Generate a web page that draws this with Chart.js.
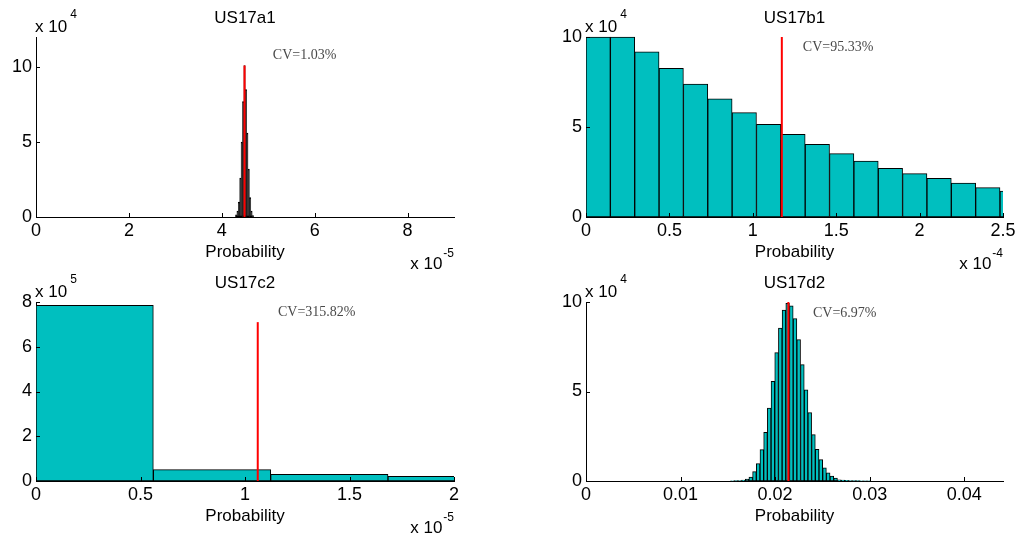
<!DOCTYPE html>
<html>
<head>
<meta charset="utf-8">
<script src="https://cdn.jsdelivr.net/npm/chart.js@4"></script>
<style>
  html, body { margin: 0; padding: 0; background: #fff; }
  #page { position: relative; width: 1019px; height: 538px; overflow: hidden; }
  canvas { position: absolute; }
</style>
</head>
<body>
<div id="page">
  <canvas id="cA" width="510" height="275" style="left:0;top:0"></canvas>
  <canvas id="cB" width="509" height="275" style="left:510px;top:0"></canvas>
  <canvas id="cC" width="510" height="268" style="left:0;top:270px"></canvas>
  <canvas id="cD" width="509" height="268" style="left:510px;top:270px"></canvas>
</div>
<script>
// US17a1  (x in 1e-5, counts in 1e4)
const ticksXA = [0, 2, 4, 6, 8];
const ticksYA = [0, 5, 10];
const edgeA = 4.295, widthA = 0.03;
const countsA = [0.15, 0.4, 1.0, 2.6, 5.0, 7.7, 10.1, 8.5, 5.6, 3.2, 1.3, 0.4, 0.1];
const meanA = 4.49, meanTopA = 10.1;

// US17b1  (x in 1e-4, counts in 1e4)
const ticksXB = [0, 0.5, 1, 1.5, 2, 2.5];
const ticksYB = [0, 5, 10];
const edgeB = 0, widthB = 0.146;
const countsB = [10.0, 10.0, 9.17, 8.26, 7.39, 6.57, 5.80, 5.15, 4.59, 4.04, 3.52, 3.11, 2.70, 2.41, 2.15, 1.89, 1.63, 1.44];
const meanB = 1.174, meanTopB = 10;

// US17c2  (x in 1e-5, counts in 1e5)
const ticksXC = [0, 0.5, 1, 1.5, 2];
const ticksYC = [0, 2, 4, 6, 8];
const edgeC = 0, widthC = 0.5614;
const countsC = [7.85, 0.51, 0.30, 0.21];
const meanC = 1.061, meanTopC = 7.1;

// US17d2  (x as is, counts in 1e4)
const ticksXD = [0, 0.01, 0.02, 0.03, 0.04];
const ticksYD = [0, 5, 10];
const edgeD = 0.01528, widthD = 0.00039;
const countsD = [0.01, 0.02, 0.03, 0.05,
  0.11, 0.22, 0.52, 0.97, 1.75, 2.72, 4.08, 5.57, 7.17, 8.55, 9.55, 9.93, 9.78,
  9.07, 7.90, 6.50, 5.10, 3.82, 2.59, 1.77, 1.19, 0.73, 0.45, 0.28, 0.17, 0.07,
  0.05, 0.04, 0.03, 0.02, 0.02, 0.01, 0.01, 0.01];
const meanD = 0.0214, meanTopD = 10;

const TEAL = '#00bfbf';
const SANS = '"Liberation Sans", Arial, sans-serif';
Chart.defaults.font.family = SANS;
Chart.defaults.color = '#000';

function binsToPoints(start, w, counts) {
  return counts.map((c, i) => ({ x: start + w * (i + 0.5), y: c }));
}

const decor = {
  id: 'decor',
  afterDraw(chart, args, o) {
    const { ctx, chartArea: a, scales: { x, y } } = chart;
    ctx.save();
    // inward tick marks
    ctx.strokeStyle = '#000';
    ctx.lineWidth = 1;
    ctx.beginPath();
    x.ticks.forEach(t => {
      const px = Math.round(x.getPixelForValue(t.value)) + 0.5;
      ctx.moveTo(px, a.bottom); ctx.lineTo(px, a.bottom - 4);
    });
    y.ticks.forEach(t => {
      const py = Math.round(y.getPixelForValue(t.value)) + 0.5;
      ctx.moveTo(a.left, py); ctx.lineTo(a.left + 4, py);
    });
    ctx.stroke();

    ctx.fillStyle = '#000';
    ctx.textAlign = 'center';
    ctx.textBaseline = 'middle';
    ctx.font = '17px ' + SANS;
    ctx.fillText(o.title, (a.left + a.right) / 2, a.top - 19);

    // multiplier above y axis
    ctx.textAlign = 'left';
    ctx.textBaseline = 'alphabetic';
    ctx.font = '17px ' + SANS;
    ctx.fillText('x 10', a.left - 1, a.top - 5);
    const w = ctx.measureText('x 10').width;
    ctx.font = '12px ' + SANS;
    ctx.fillText(o.yExp, a.left + w + 2, a.top - 19);

    // multiplier below x axis
    if (o.xExp) {
      ctx.font = '12px ' + SANS;
      const ws = ctx.measureText(o.xExp).width;
      ctx.fillText(o.xExp, a.right - ws, a.bottom + 40);
      ctx.font = '17px ' + SANS;
      const wb = ctx.measureText('x 10').width;
      ctx.fillText('x 10', a.right - ws - wb - 1, a.bottom + 52);
    }

    ctx.fillStyle = '#4a4a4a';
    ctx.textBaseline = 'middle';
    ctx.font = '14px "Liberation Serif", "Times New Roman", serif';
    ctx.fillText(o.cv, x.getPixelForValue(o.cvAt[0]), y.getPixelForValue(o.cvAt[1]));
    ctx.restore();
  }
};

function makePanel(id, p) {
  return new Chart(document.getElementById(id), {
    type: 'bar',
    data: {
      datasets: [
        {
          type: 'line',
          data: [{ x: p.mean, y: 0 }, { x: p.mean, y: p.meanTop }],
          borderColor: '#ff0000',
          borderWidth: 2,
          pointRadius: 0,
          order: 0
        },
        {
          data: binsToPoints(p.edge, p.width, p.counts),
          backgroundColor: p.fill,
          borderColor: '#000',
          borderWidth: 1,
          borderSkipped: false,
          barThickness: 'flex',
          categoryPercentage: 1,
          barPercentage: 1,
          clip: { left: 0, right: 0, top: 2, bottom: 2 },
          order: 1
        }
      ]
    },
    options: {
      responsive: false,
      animation: false,
      layout: { padding: p.pad },
      plugins: {
        legend: { display: false },
        tooltip: { enabled: false },
        decor: { title: p.title, yExp: p.yExp, xExp: p.xExp, cv: p.cv, cvAt: p.cvAt }
      },
      scales: {
        x: {
          type: 'linear',
          offset: false,
          min: 0,
          max: p.xMax,
          grid: { display: false, drawTicks: false },
          border: { display: true, color: '#000', width: 1 },
          afterBuildTicks: s => { s.ticks = p.xTicks.map(v => ({ value: v })); },
          afterFit: s => { s.height = 46; },
          ticks: { padding: 3, maxRotation: 0, autoSkip: false, font: { size: 18 }, callback: v => String(v) },
          title: { display: true, text: 'Probability', font: { size: 17 }, padding: 0 }
        },
        y: {
          min: 0,
          max: p.yMax,
          grid: { display: false, drawTicks: false },
          border: { display: true, color: '#000', width: 1 },
          afterBuildTicks: s => { s.ticks = p.yTicks.map(v => ({ value: v })); },
          afterFit: s => { s.width = p.yWidth; },
          ticks: { padding: 4, autoSkip: false, font: { size: 18 }, callback: v => String(v) }
        }
      }
    },
    plugins: [decor]
  });
}

makePanel('cA', {
  title: 'US17a1', yExp: '4', xExp: '-5', cv: 'CV=1.03%', cvAt: [5.1, 10.8],
  xTicks: ticksXA, yTicks: ticksYA, xMax: 9.0, yMax: 12,
  edge: edgeA, width: widthA, counts: countsA, mean: meanA, meanTop: meanTopA, fill: '#000',
  pad: { left: 0, right: 56, top: 37, bottom: 12 }, yWidth: 36
});
makePanel('cB', {
  title: 'US17b1', yExp: '4', xExp: '-4', cv: 'CV=95.33%', cvAt: [1.30, 9.43],
  xTicks: ticksXB, yTicks: ticksYB, xMax: 2.5, yMax: 10,
  edge: edgeB, width: widthB, counts: countsB, mean: meanB, meanTop: meanTopB, fill: TEAL,
  pad: { left: 0, right: 16, top: 37, bottom: 12 }, yWidth: 76
});
makePanel('cC', {
  title: 'US17c2', yExp: '5', xExp: '-5', cv: 'CV=315.82%', cvAt: [1.158, 7.56],
  xTicks: ticksXC, yTicks: ticksYC, xMax: 2, yMax: 8,
  edge: edgeC, width: widthC, counts: countsC, mean: meanC, meanTop: meanTopC, fill: TEAL,
  pad: { left: 0, right: 56, top: 32, bottom: 11 }, yWidth: 36
});
makePanel('cD', {
  title: 'US17d2', yExp: '4', xExp: null, cv: 'CV=6.97%', cvAt: [0.0240, 9.37],
  xTicks: ticksXD, yTicks: ticksYD, xMax: 0.0441, yMax: 10,
  edge: edgeD, width: widthD, counts: countsD, mean: meanD, meanTop: meanTopD, fill: TEAL,
  pad: { left: 0, right: 16, top: 32, bottom: 11 }, yWidth: 76
});
</script>
</body>
</html>
